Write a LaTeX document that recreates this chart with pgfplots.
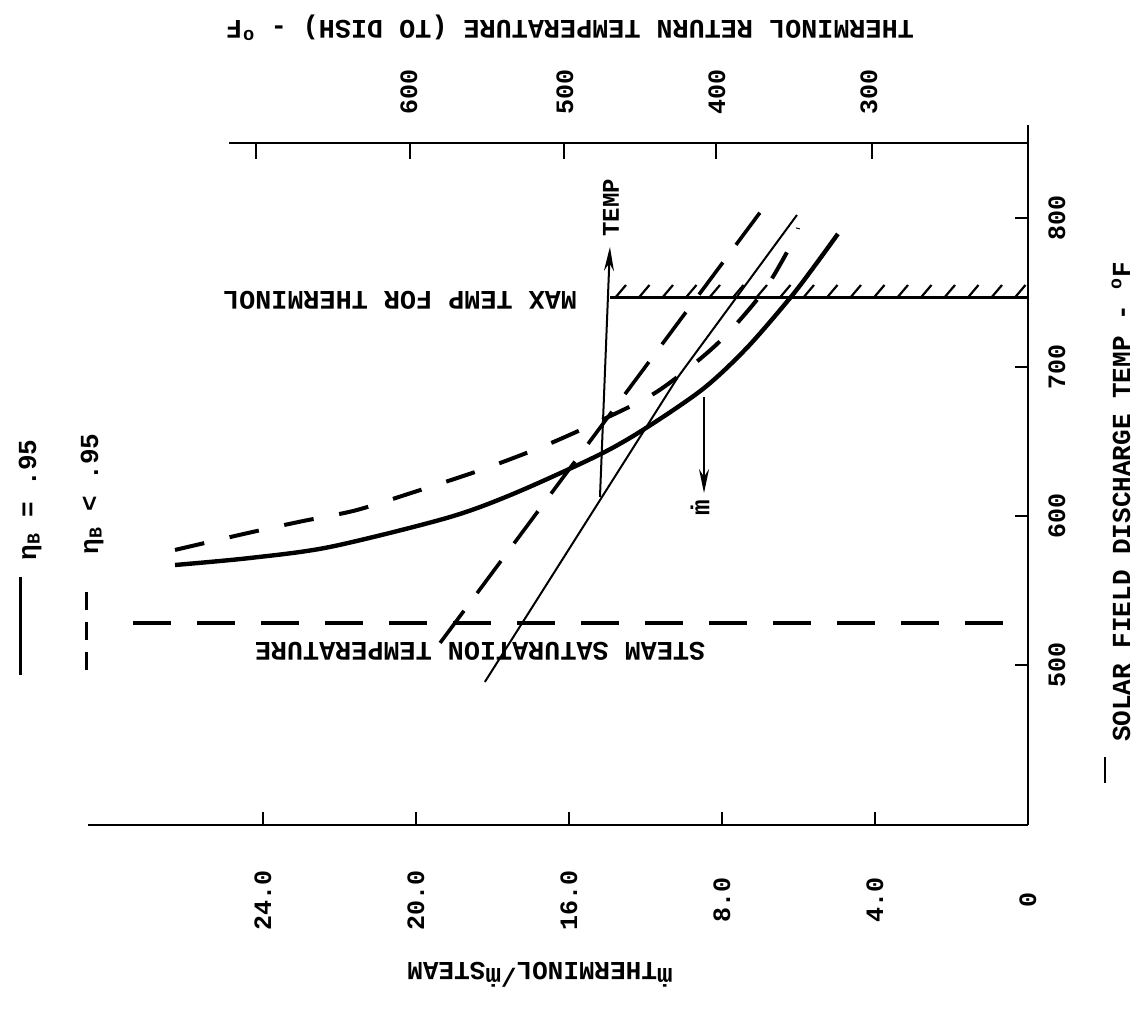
\documentclass[border=0pt]{standalone}
\usepackage{fontspec}
\setmainfont{Liberation Mono}
\usepackage{pgfplots}
\pgfplotsset{compat=1.18}
\usetikzlibrary{arrows.meta}
\newcommand\tw[1]{\fontsize{#1}{#1}\selectfont\bfseries}
\begin{document}
\begin{tikzpicture}
\begin{axis}[
  scale only axis, width=470pt, height=350pt,
  xmin=-24.575, xmax=0, ymin=392.6, ymax=862.4,
  axis x line*=bottom, axis y line*=right,
  axis line style={line width=1.4pt,-},
  xtick={-20,-16,-12,-8,-4,0},
  xticklabels={24.0,20.0,16.0,8.0,4.0,0},
  ytick={500,600,700,800},
  yticklabels={500,600,700,800},
  tick align=inside, major tick length=6.5pt,
  every tick/.style={black, line width=1.4pt},
  xticklabel style={yshift=-37.5pt, rotate=90, anchor=center, font=\tw{12.5}},
  yticklabel style={xshift=14.5pt, rotate=90, anchor=center, font=\tw{12.5}},
  clip=false,
]
% eta_B = .95 (solid)
\addplot[line width=2.2pt, smooth] coordinates {
(-22.30,567.1) (-20.34,571.8) (-18.25,579.2) (-15.19,598.7) (-13.46,614.8)
(-11.27,640.3) (-10.07,657.7) (-8.50,685.2) (-7.35,712.8) (-6.22,746.3)
(-5.62,766.4) (-4.97,789.3)};
% eta_B < .95 (dashed)
\addplot[line width=2pt, smooth, dash pattern=on 15pt off 13pt] coordinates {
(-22.30,577.2) (-20.44,588.3) (-19.01,596.3) (-17.59,603.7) (-16.13,615.4)
(-14.30,630.9) (-12.65,647.0) (-11.14,664.4) (-9.67,683.9) (-8.13,715.4)
(-6.93,750.3) (-6.17,783.2) (-6.01,793.3)};
% straight lines
\addplot[line width=1.8pt, dash pattern=on 20pt off 11pt] coordinates {(-15.37,514.8) (-6.82,810.1)};
\addplot[line width=1pt] coordinates {(-14.20,488.6) (-9.15,693.3) (-6.04,802.0)};
% steam saturation temperature
\addplot[line width=1.7pt, dash pattern=on 19pt off 13pt] coordinates {(-23.40,528.2) (0,528.2)};
% max temp for therminol
\addplot[line width=1.5pt] coordinates {(-10.93,746.3) (0,746.3)};
% arrows
\addplot[line width=1pt, -{Stealth[length=12pt,width=5pt]}] coordinates {(-11.19,612.8) (-10.93,780.5)};
\addplot[line width=1pt, -{Stealth[length=12pt,width=5pt]}] coordinates {(-8.47,679.9) (-8.47,615.4)};
\end{axis}
\begin{scope}[shift={(-44pt,412.5pt)}, x=0.5pt, y=-0.5pt]
\draw[line width=1.4pt] (229,143) -- (1028,143);
\foreach \t in {256,410,564,716,872} \draw[line width=1.4pt] (\t,143) -- (\t,159);
\foreach \k in {0,...,17} \draw[line width=1.1pt] ({615+23.5*\k},298) -- ({626+23.5*\k},285);
\node[rotate=180, font=\tw{13.4}] at (570,28) {THERMINOL RETURN TEMPERATURE (TO DISH) - \textsuperscript{o}F};
\node[rotate=90, font=\tw{12.5}] at (409,92) {600};
\node[rotate=90, font=\tw{12.5}] at (565,92) {500};
\node[rotate=90, font=\tw{12.5}] at (717,92) {400};
\node[rotate=90, font=\tw{12.5}] at (869,92) {300};
\node[rotate=180, font=\tw{13.4}] at (400,300) {MAX TEMP FOR THERMINOL};
\node[rotate=180, font=\tw{13.4}] at (480,651) {STEAM SATURATION TEMPERATURE};
\node[rotate=90, font=\tw{12}] at (611,208) {TEMP};
\node[rotate=90, font=\tw{13}] at (700,508) {\.{m}};
\node[rotate=90, font=\tw{13}] at (1121,502) {SOLAR FIELD DISCHARGE TEMP - \textsuperscript{o}F};
\draw[line width=1.2pt] (1105,757) -- (1105,783);
\node[rotate=180, font=\tw{13}] at (540,975) {\.{m}\raisebox{-3pt}{THERMINOL}/\.{m}\raisebox{-3pt}{STEAM}};
\draw[line width=1.5pt] (21,577) -- (21,675);
\draw[line width=1.5pt, dash pattern=on 9pt off 6pt] (86,592) -- (86,675);
\node[rotate=90, font=\tw{13}] at (30,500) {η\textsubscript{B} = .95};
\node[rotate=90, font=\tw{13}] at (92,494) {η\textsubscript{B} < .95};
\pgfresetboundingbox
\path[use as bounding box] (0,0) rectangle (1135,1016);
\end{scope}
\end{tikzpicture}
\end{document}
